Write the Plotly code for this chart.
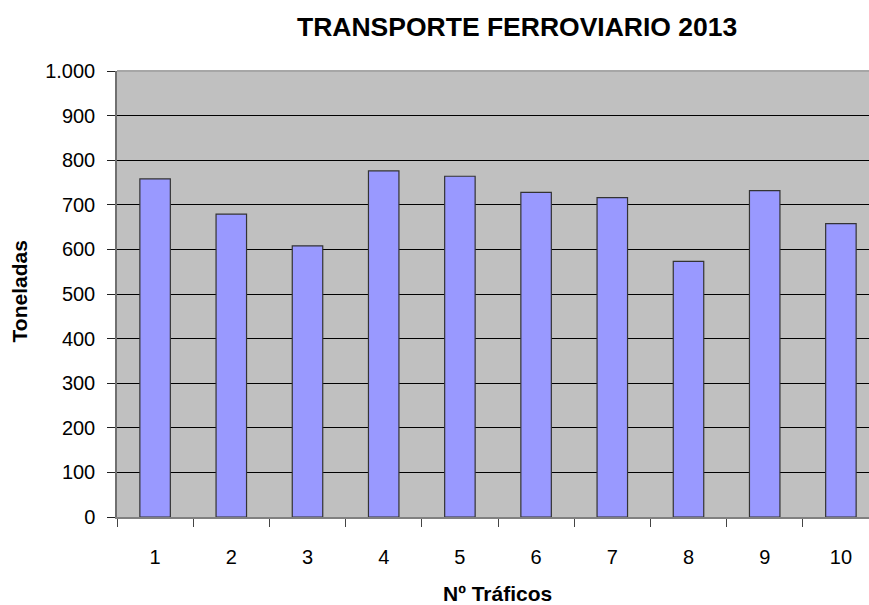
import plotly.graph_objects as go

categories = ["1", "2", "3", "4", "5", "6", "7", "8", "9", "10"]
toneladas = [758, 679, 608, 776, 764, 728, 716, 573, 732, 658]
y_ticks = [0, 100, 200, 300, 400, 500, 600, 700, 800, 900, 1000]

FONT = "Liberation Sans, Arial, sans-serif"

fig = go.Figure(
    go.Bar(
        x=categories,
        y=toneladas,
        marker=dict(color="#9999FF", line=dict(color="#333333", width=1.2)),
    )
)

# the plot area runs past the right edge of the window, as in the reference
fig.update_layout(
    width=879,
    height=605,
    margin=dict(l=117, r=0, t=71, b=88),
    paper_bgcolor="white",
    plot_bgcolor="#C0C0C0",
    separators=",.",
    bargap=0.6,
    showlegend=False,
    hovermode=False,
    font=dict(family=FONT, color="black", size=20),
    shapes=[
        dict(type="line", xref="paper", yref="paper", x0=0, x1=1, y0=1, y1=1,
             line=dict(color="#A6A6A6", width=2), layer="above"),
    ],
    annotations=[
        dict(text="<b>TRANSPORTE FERROVIARIO 2013</b>", xref="paper", yref="paper",
             x=0.5245, y=1.098, xanchor="center", yanchor="middle",
             showarrow=False, font=dict(size=26.5, family=FONT)),
        dict(text="<b>Toneladas</b>", xref="paper", yref="paper",
             x=-0.1277, y=0.505, xanchor="center", yanchor="middle", textangle=-90,
             showarrow=False, font=dict(size=21, family=FONT)),
        dict(text="<b>Nº Tráficos</b>", xref="paper", yref="paper",
             x=0.4996, y=-0.172, xanchor="center", yanchor="middle",
             showarrow=False, font=dict(size=21, family=FONT)),
    ],
)

fig.update_xaxes(
    type="category",
    tickson="boundaries",
    ticks="outside",
    ticklen=8,
    tickcolor="#444444",
    tickwidth=1,
    showline=True,
    linecolor="#808080",
    linewidth=1.5,
    showgrid=False,
    ticklabelstandoff=21,
    tickfont=dict(size=20, family=FONT),
)

fig.update_yaxes(
    range=[0, 1000],
    tickvals=y_ticks,
    tickformat=",d",
    ticks="outside",
    ticklen=8,
    tickcolor="#222222",
    showline=True,
    linecolor="#707070",
    linewidth=1.5,
    showgrid=True,
    gridcolor="black",
    gridwidth=1,
    zeroline=False,
    ticklabelstandoff=8,
    tickfont=dict(size=20, family=FONT),
)

fig.write_html(
    "out.html",
    config={"displayModeBar": False},
    post_script="document.body.style.margin='0';document.body.style.overflow='hidden';",
)
